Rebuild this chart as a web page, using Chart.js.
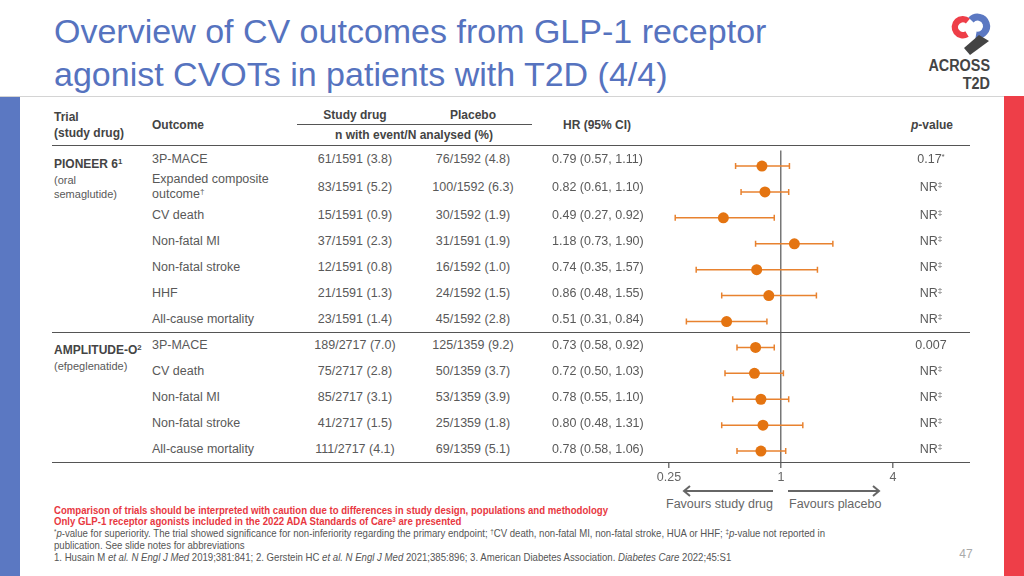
<!DOCTYPE html>
<html>
<head>
<meta charset="utf-8">
<script src="https://cdn.jsdelivr.net/npm/chart.js@4.4.1/dist/chart.umd.min.js"></script>
<style>
  html, body { margin: 0; padding: 0; }
  body { width: 1024px; height: 576px; position: relative; overflow: hidden; background: #fff;
         font-family: "Liberation Sans", Arial, sans-serif; }
  .t { position: absolute; white-space: nowrap; line-height: 15px; }
  .hline { position: absolute; height: 0; border-top: 1px solid #555; }
  sup { font-size: 65%; line-height: 0; vertical-align: 0.45em; }
  #forest { position: absolute; left: 640px; top: 145px; }
</style>
</head>
<body>
<svg id="deco" width="1024" height="576" style="position:absolute;left:0;top:0">
  <rect x="0" y="96" width="1024" height="1" fill="#d4d4d4"/>
  <rect x="0" y="97" width="20" height="479" fill="#5b78c2"/>
  <rect x="1004" y="96" width="20" height="480" fill="#ee3e48"/>
  <!-- logo -->
  <path d="M 968 21 A 8 8 0 1 0 967 34" fill="none" stroke="#ee3e48" stroke-width="6.5"/>
  <path d="M 971 20 A 9 9 0 1 1 976 35" fill="none" stroke="#5b78c2" stroke-width="7"/>
  <polygon points="979,35 989,41 970,55 964,48" fill="#444"/>
  <!-- favours arrows -->
  <g stroke="#666" stroke-width="2" fill="none">
    <line x1="684" y1="491" x2="773" y2="491"/>
    <polyline points="690,486 684,491 690,496"/>
    <line x1="788" y1="491" x2="879" y2="491"/>
    <polyline points="873,486 879,491 873,496"/>
  </g>
</svg>
<canvas id="forest" width="280" height="346"></canvas>
<script>
// DATA
const trials = ["PIONEER 6<sup>1</sup>", "AMPLITUDE-O<sup>2</sup>"];
const trialDrugs = ["(oral<br>semaglutide)", "(efpeglenatide)"];
const trialRows = [7, 5];
const outcomes = ["3P-MACE", "Expanded composite<br>outcome<sup>†</sup>", "CV death", "Non-fatal MI",
  "Non-fatal stroke", "HHF", "All-cause mortality",
  "3P-MACE", "CV death", "Non-fatal MI", "Non-fatal stroke", "All-cause mortality"];
const studyDrug = ["61/1591 (3.8)", "83/1591 (5.2)", "15/1591 (0.9)", "37/1591 (2.3)", "12/1591 (0.8)",
  "21/1591 (1.3)", "23/1591 (1.4)", "189/2717 (7.0)", "75/2717 (2.8)", "85/2717 (3.1)",
  "41/2717 (1.5)", "111/2717 (4.1)"];
const placebo = ["76/1592 (4.8)", "100/1592 (6.3)", "30/1592 (1.9)", "31/1591 (1.9)", "16/1592 (1.0)",
  "24/1592 (1.5)", "45/1592 (2.8)", "125/1359 (9.2)", "50/1359 (3.7)", "53/1359 (3.9)",
  "25/1359 (1.8)", "69/1359 (5.1)"];
const hr = [0.79, 0.82, 0.49, 1.18, 0.74, 0.86, 0.51, 0.73, 0.72, 0.78, 0.80, 0.78];
const ciLow = [0.57, 0.61, 0.27, 0.73, 0.35, 0.48, 0.31, 0.58, 0.50, 0.55, 0.48, 0.58];
const ciHigh = [1.11, 1.10, 0.92, 1.90, 1.57, 1.55, 0.84, 0.92, 1.03, 1.10, 1.31, 1.06];
const pValues = ["0.17<sup>*</sup>", "NR<sup>‡</sup>", "NR<sup>‡</sup>", "NR<sup>‡</sup>", "NR<sup>‡</sup>",
  "NR<sup>‡</sup>", "NR<sup>‡</sup>", "0.007", "NR<sup>‡</sup>", "NR<sup>‡</sup>", "NR<sup>‡</sup>", "NR<sup>‡</sup>"];
const tickValues = [0.25, 1, 4];
const tickLabels = ["0.25", "1", "4"];

// TEXT HELPER
function put(html, x, y, o = {}) {
  const d = document.createElement("div");
  d.className = "t";
  d.innerHTML = html;
  const tx = o.align === "center" ? "-50%" : o.align === "right" ? "-100%" : "0";
  d.style.left = x + "px";
  d.style.top = y + "px";
  d.style.fontSize = (o.size || 12.5) + "px";
  d.style.fontWeight = o.weight || "normal";
  d.style.color = o.color || "#595959";
  if (o.style) d.style.cssText += o.style;
  d.style.transform = `translate(${tx}, -50%)` + (o.sx ? ` scaleX(${o.sx})` : "");
  if (o.sx) d.style.transformOrigin = o.align === "right" ? "right center" : "left center";
  document.body.appendChild(d);
  return d;
}
function hline(x1, x2, y) {
  const d = document.createElement("div");
  d.className = "hline";
  d.style.left = x1 + "px";
  d.style.width = (x2 - x1) + "px";
  d.style.top = y + "px";
  document.body.appendChild(d);
}

// TITLE + LOGO TEXT
put("Overview of CV outcomes from GLP-1 receptor<br>agonist CVOTs in patients with T2D (4/4)", 54, 53,
  { size: 34, color: "#5673bf", style: "line-height:43px;" });
const logo = { size: 16, weight: "bold", color: "#444", sx: 0.9, align: "right", style: "line-height:16px;" };
put("ACROSS", 990, 65.5, logo);
put("T2D", 990, 84, logo);

// HEADER
const hd = { size: 12, weight: "bold", color: "#444" };
put("Trial", 54, 117, hd);
put("(study drug)", 54, 133, hd);
put("Outcome", 152, 125, hd);
put("Study drug", 355, 115, { ...hd, align: "center" });
put("Placebo", 473, 115, { ...hd, align: "center" });
put("n with event/N analysed (%)", 414, 135, { ...hd, align: "center" });
put("HR (95% CI)", 563, 125, hd);
put("<i>p</i>-value", 953, 125, { ...hd, align: "right" });
hline(297, 532, 124);
hline(52, 970, 145);

// TABLE ROWS
let yTop = 146;
const rowCenters = outcomes.map((o) => {
  const h = o.includes("<br>") ? 30 : 26;
  const c = yTop + h / 2;
  yTop += h;
  return c;
});
outcomes.forEach((o, i) => {
  const y = rowCenters[i];
  put(o, 152, y);
  put(studyDrug[i], 355, y, { align: "center" });
  put(placebo[i], 473, y, { align: "center" });
  put(`${hr[i].toFixed(2)} (${ciLow[i].toFixed(2)}, ${ciHigh[i].toFixed(2)})`, 552, y);
  put(pValues[i], 931, y, { align: "center" });
});
let start = 0;
trials.forEach((t, k) => {
  const y0 = rowCenters[start];
  put(t, 54, y0 + 5, { size: 12, weight: "bold", color: "#444" });
  put(trialDrugs[k], 54, y0 + 5 + 16, { size: 11, style: "line-height:14px;" })
    .style.transform = "translate(0,-7px)";
  start += trialRows[k];
  hline(52, 970, Math.round(rowCenters[start - 1] + 13));
});

// FAVOURS
put("Favours study drug", 773, 504, { align: "right", color: "#666" });
put("Favours placebo", 789, 504, { color: "#666" });

// FOOTNOTES
const fn = { size: 10.5, sx: 0.915, style: "line-height:12px;" };
put("Comparison of trials should be interpreted with caution due to differences in study design, populations and methodology",
  54, 510, { ...fn, weight: "bold", color: "#e8383f" });
put("Only GLP-1 receptor agonists included in the 2022 ADA Standards of Care<sup>3</sup> are presented",
  54, 521, { ...fn, weight: "bold", color: "#e8383f" });
put("<sup>*</sup><i>p</i>-value for superiority. The trial showed significance for non-inferiority regarding the primary endpoint; <sup>†</sup>CV death, non-fatal MI, non-fatal stroke, HUA or HHF; <sup>‡</sup><i>p</i>-value not reported in",
  54, 533, { ...fn, color: "#555" });
put("publication. See slide notes for abbreviations", 54, 545, { ...fn, color: "#555" });
put("1. Husain M <i>et al. N Engl J Med</i> 2019;381:841; 2. Gerstein HC <i>et al. N Engl J Med</i> 2021;385:896; 3. American Diabetes Association. <i>Diabetes Care</i> 2022;45:S1",
  54, 557, { ...fn, color: "#555" });
put("47", 966, 554, { size: 12, color: "#aaa", align: "center" });

// FOREST PLOT
const dotColor = "#e47411";
const ciColor = "#e8822f";
const ciSets = hr.map((v, i) => ({
  type: "line",
  data: [{ x: ciLow[i], y: i }, { x: ciHigh[i], y: i }],
  showLine: true,
  borderColor: ciColor,
  borderWidth: 1.5,
  pointStyle: "line",
  rotation: 90,
  pointRadius: 3,
  pointBorderColor: ciColor,
  pointBorderWidth: 1.5,
  order: 1,
}));

new Chart(document.getElementById("forest"), {
  type: "scatter",
  data: {
    datasets: [
      {
        data: hr.map((v, i) => ({ x: v, y: i })),
        pointRadius: 5.5,
        pointBackgroundColor: dotColor,
        pointBorderWidth: 0,
        order: 0,
      },
      ...ciSets,
    ],
  },
  options: {
    responsive: false,
    animation: false,
    layout: { padding: { left: 29, right: 27, top: 0, bottom: 0 } },
    plugins: { legend: { display: false }, tooltip: { enabled: false } },
    scales: {
      x: {
        type: "logarithmic",
        min: 0.25,
        max: 4,
        bounds: "data",
        afterBuildTicks: (s) => { s.ticks = tickValues.map((v) => ({ value: v })); },
        afterFit: (s) => { s.height = 28; },
        border: { display: false },
        grid: {
          color: (c) => (c.tick && c.tick.value === 1 ? "#777" : "rgba(0,0,0,0)"),
          lineWidth: 1.5,
          tickColor: "#777",
          tickLength: 5,
        },
        ticks: {
          padding: 2,
          maxRotation: 0,
          color: "#666",
          font: { family: "Liberation Sans", size: 12.5 },
          callback: (v) => tickLabels[tickValues.indexOf(v)],
        },
      },
      y: { type: "linear", reverse: true, min: -0.6, max: 11.46, display: false },
    },
  },
});
</script>
</body>
</html>
